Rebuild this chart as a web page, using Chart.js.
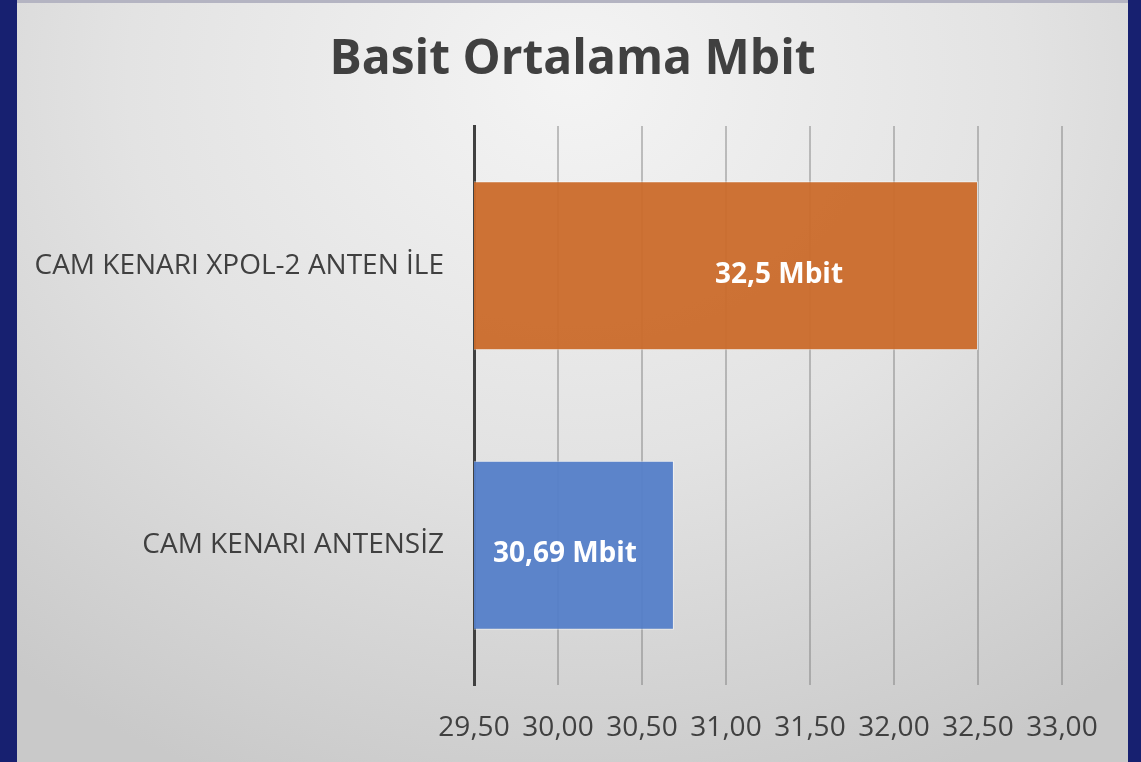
<!DOCTYPE html>
<html lang="tr">
<head>
    <meta charset="UTF-8">
    <title>Basit Ortalama Mbit</title>
    <script src="https://cdn.jsdelivr.net/npm/chart.js"></script>
    <style>
        html, body {
            margin: 0;
            padding: 0;
            width: 1141px;
            height: 762px;
            overflow: hidden;
            background: #172070;
        }
        .frame {
            position: absolute;
            left: 17px;
            top: 0;
            width: 1111px;
            height: 762px;
            border-top: 3px solid #b4b4c2;
            box-sizing: border-box;
            background: radial-gradient(ellipse 80% 100% at 50% 10%, #f4f4f4 0%, #e3e3e3 50%, #c9c9c9 100%);
        }
        .frame canvas {
            display: block;
        }
    </style>
</head>
<body>
    <div class="frame">
        <canvas id="chart" width="1111" height="759"></canvas>
    </div>

    <script>
        const categories = ['CAM KENARI XPOL-2 ANTEN İLE', 'CAM KENARI ANTENSİZ'];
        const values = [32.5, 30.69];
        const valueLabels = ['32,5 Mbit', '30,69 Mbit'];
        const barColors = ['rgba(203, 108, 45, 0.96)', 'rgba(86, 128, 201, 0.96)'];
        const xTicks = [29.5, 30, 30.5, 31, 31.5, 32, 32.5, 33];

        const textColor = '#404040';
        const fontFamily = "'Open Sans', sans-serif";
        const titleText = 'Basit Ortalama Mbit';

        // the labels are not centred in the original slide, so nudge them a bit
        const labelShift = [53, -9];

        // white value labels inside the bars + the title centred on the frame
        const overlay = {
            id: 'overlay',
            afterDraw(chart) {
                const ctx = chart.ctx;
                const xs = chart.scales.x;
                const ys = chart.scales.y;
                ctx.save();
                ctx.textAlign = 'center';
                ctx.textBaseline = 'middle';

                ctx.fillStyle = '#ffffff';
                ctx.font = 'bold 28px ' + fontFamily;
                values.forEach((v, i) => {
                    const x0 = xs.getPixelForValue(xs.min);
                    const x1 = xs.getPixelForValue(v);
                    const cy = ys.getPixelForValue(i);
                    ctx.fillText(valueLabels[i], (x0 + x1) / 2 + labelShift[i], cy + 9);
                });

                ctx.fillStyle = textColor;
                ctx.font = 'bold 48px ' + fontFamily;
                ctx.fillText(titleText, chart.width / 2, 57);
                ctx.restore();
            }
        };

        new Chart(document.getElementById('chart'), {
            type: 'bar',
            data: {
                labels: categories,
                datasets: [{
                    data: values,
                    backgroundColor: barColors,
                    borderColor: 'rgba(255, 255, 255, 0.55)',
                    borderWidth: 1,
                    borderSkipped: false,
                    categoryPercentage: 1,
                    barPercentage: 0.605
                }]
            },
            options: {
                indexAxis: 'y',
                responsive: false,
                animation: false,
                layout: { padding: { top: 123, right: 66, bottom: 0, left: 0 } },
                plugins: {
                    legend: { display: false },
                    tooltip: { enabled: false },
                    title: { display: false }
                },
                scales: {
                    x: {
                        min: 29.5,
                        max: 33,
                        afterBuildTicks: (scale) => {
                            scale.ticks = xTicks.map(v => ({ value: v }));
                        },
                        afterFit: (scale) => { scale.height = 77; },
                        grid: {
                            color: 'rgba(110, 110, 110, 0.4)',
                            lineWidth: 2,
                            drawTicks: false
                        },
                        border: { display: false },
                        ticks: {
                            color: textColor,
                            font: { family: fontFamily, size: 28 },
                            padding: 26,
                            maxRotation: 0,
                            callback: (v) => Number(v).toFixed(2).replace('.', ',')
                        }
                    },
                    y: {
                        afterFit: (scale) => { scale.width = 457; },
                        grid: { display: false, drawTicks: false },
                        border: { display: true, color: '#404040', width: 3 },
                        ticks: {
                            color: textColor,
                            font: { family: fontFamily, size: 28 },
                            padding: 30
                        }
                    }
                }
            },
            plugins: [overlay]
        });
    </script>
</body>
</html>
